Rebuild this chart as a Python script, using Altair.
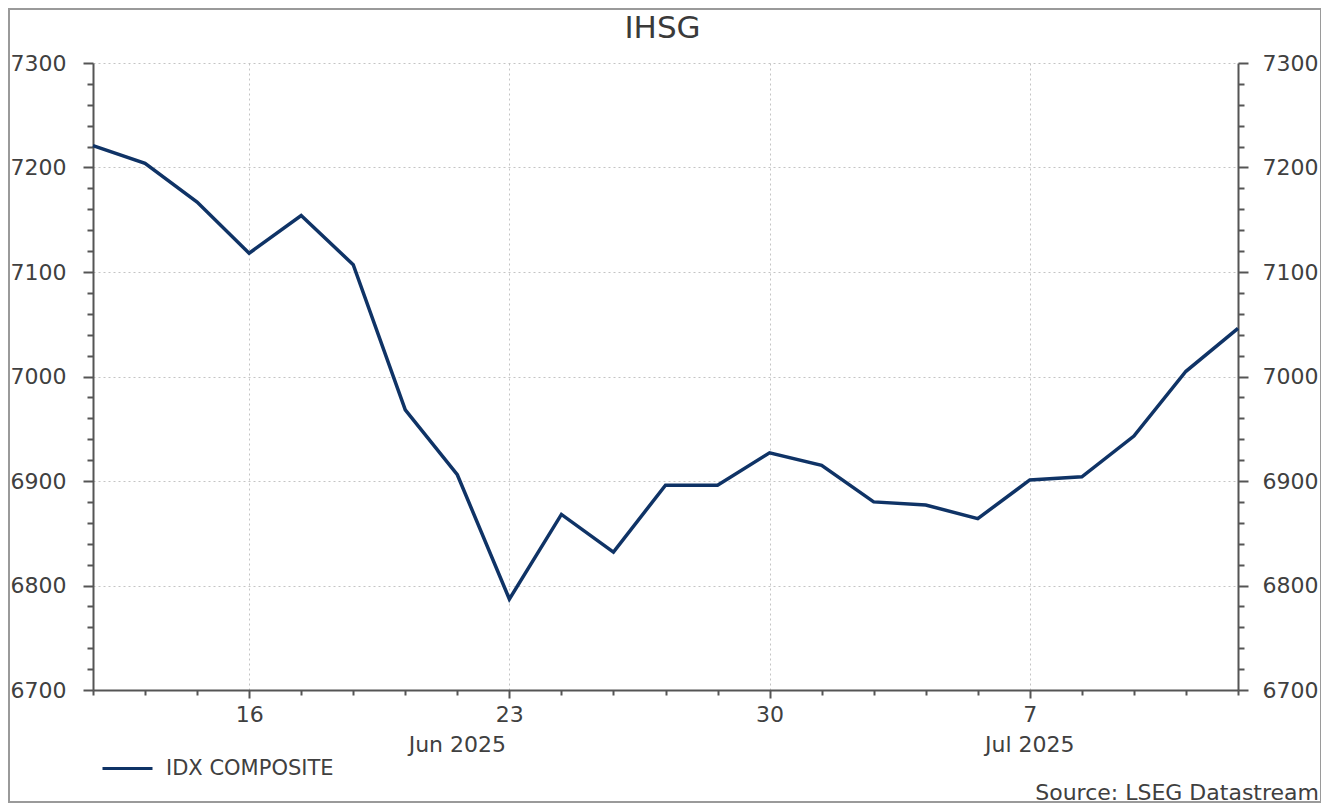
import altair as alt
import pandas as pd

# ---- data (trading days, 11 Jun 2025 - 11 Jul 2025) ----
dates = ["2025-06-11", "2025-06-12", "2025-06-13", "2025-06-16", "2025-06-17",
         "2025-06-18", "2025-06-19", "2025-06-20", "2025-06-23", "2025-06-24",
         "2025-06-25", "2025-06-26", "2025-06-27", "2025-06-30", "2025-07-01",
         "2025-07-02", "2025-07-03", "2025-07-04", "2025-07-07", "2025-07-08",
         "2025-07-09", "2025-07-10", "2025-07-11"]
values = [7221, 7204, 7167, 7118, 7154, 7107, 6968, 6906, 6787, 6868,
          6832, 6896, 6896, 6927, 6915, 6880, 6877, 6864, 6901, 6904,
          6943, 7005, 7046]
series_name = "IDX COMPOSITE"

tick_idx = [3, 8, 13, 18]
tick_labels = ["16", "23", "30", "7"]
month_idx = [7, 18]
month_labels = ["Jun 2025", "Jul 2025"]
title_text = ["IHSG"]
source_text = ["Source: LSEG Datastream"]

df = pd.DataFrame({"idx": list(range(len(values))), "date": dates,
                   "value": values, "series": [series_name] * len(values)})
months_df = pd.DataFrame({"idx": month_idx, "label": month_labels})
source_df = pd.DataFrame({"label": source_text})
title_df = pd.DataFrame({"label": title_text})
frame_df = pd.DataFrame({"k": [0]})

W, H = 1145, 627
FONT = "DejaVu Sans"
TXT = "#404040"
AX = "#555555"
LINE = "#0f3366"

label_expr = " : ".join(
    f"datum.value == {i} ? '{l}'" for i, l in zip(tick_idx, tick_labels)
) + " : ''"
is_major_x = "indexof([" + ",".join(str(i) for i in tick_idx) + "], datum.value) >= 0"

x_enc = alt.X(
    "idx:Q",
    scale=alt.Scale(domain=[0, len(values) - 1], nice=False, zero=False),
    axis=alt.Axis(
        title=None,
        values=list(range(len(values))),
        labelExpr=label_expr,
        labelOverlap=False,
        labelFont=FONT, labelFontSize=22, labelColor=TXT,
        labelPadding=6,
        domainColor=AX, domainWidth=2,
        tickColor=AX, tickWidth=2,
        tickSize={"condition": {"test": is_major_x, "value": 8}, "value": 5},
        grid=True, gridColor="#c4c4c4", gridDash=[2, 3], gridWidth=1,
        gridOpacity={"condition": {"test": is_major_x, "value": 1}, "value": 0},
    ),
)

yscale = alt.Scale(domain=[6700, 7300], nice=False, zero=False)
y_vals = list(range(6700, 7301, 20))
major_y = "datum.value % 100 === 0"

def y_axis(orient, grid, pad):
    kw = dict(
        title=None, orient=orient, values=y_vals, format="d",
        labelExpr=f"{major_y} ? datum.label : ''",
        labelOverlap=False, labelFont=FONT, labelFontSize=22, labelColor=TXT,
        labelPadding=pad, labelLimit=200,
        domainColor=AX, domainWidth=2,
        tickColor=AX, tickWidth=2,
        tickSize={"condition": {"test": major_y, "value": 10}, "value": 6},
        grid=grid,
    )
    if grid:
        kw.update(gridColor="#c4c4c4", gridDash=[2, 3], gridWidth=1,
                  gridOpacity={"condition": {"test": major_y, "value": 1}, "value": 0})
    return alt.Axis(**kw)

line = alt.Chart(df).mark_line(strokeWidth=3.5, color=LINE).encode(
    x=x_enc,
    y=alt.Y("value:Q", scale=yscale, axis=y_axis("left", True, 17)),
    color=alt.Color(
        "series:N",
        scale=alt.Scale(domain=[series_name], range=[LINE]),
        legend=alt.Legend(
            title=None, orient="none", legendX=8, legendY=679,
            symbolType="stroke", symbolSize=2500, symbolStrokeWidth=3,
            labelFont=FONT, labelFontSize=21, labelColor=TXT, labelOffset=12,
            labelLimit=400, padding=0,
        ),
    ),
)

right = alt.Chart(df).mark_line(strokeOpacity=0).encode(
    x=alt.X("idx:Q"),
    y=alt.Y("value:Q", scale=yscale, axis=y_axis("right", False, 14)),
)

title = alt.Chart(title_df).mark_text(
    font=FONT, fontSize=31, color="#3a3a3a", align="center", baseline="alphabetic"
).encode(x=alt.value(W / 2 - 3), y=alt.value(-25), text="label:N")

months = alt.Chart(months_df).mark_text(
    font=FONT, fontSize=22, color=TXT, align="center", baseline="alphabetic"
).encode(x=alt.X("idx:Q"), y=alt.value(H + 62), text="label:N")

source = alt.Chart(source_df).mark_text(
    font=FONT, fontSize=22, color=TXT, align="right", baseline="alphabetic"
).encode(x=alt.value(W + 81), y=alt.value(H + 110), text="label:N")

frame = alt.Chart(frame_df).mark_rect(
    fill="transparent", stroke="#9a9a9a", strokeWidth=2
).encode(x=alt.value(-84), x2=alt.value(W + 83), y=alt.value(-54), y2=alt.value(H + 112))

chart = alt.layer(frame, line, right, title, months, source).resolve_axis(
    y="independent"
).properties(
    width=W, height=H,
    autosize=alt.AutoSizeParams(type="none"),
    padding={"left": 85, "top": 55, "right": 83, "bottom": 114},
    background="white",
).configure_view(strokeWidth=0)

chart.save("out.html", embed_options={"renderer": "svg", "actions": False})
